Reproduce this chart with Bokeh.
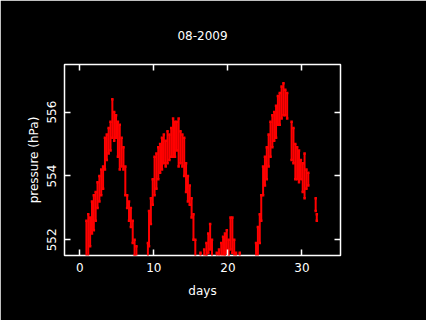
from bokeh.plotting import figure
from bokeh.models import Range1d, LinearAxis, FixedTicker
from bokeh.embed import file_html
from bokeh.resources import INLINE

# sample days and the min/max pressure (hPa) read around each sample
day = [0.9, 1.15, 1.4, 1.65, 1.9, 2.15, 2.4, 2.65, 2.9, 3.15, 3.4, 3.65, 3.9, 4.15, 4.4, 4.65,
       4.9, 5.15, 5.4, 5.65, 5.9, 6.15, 6.4, 6.65, 6.9, 7.15, 7.4, 7.65,
       9.2, 9.35, 9.6, 9.85, 10.1, 10.35, 10.6, 10.85, 11.1, 11.35, 11.6, 11.85, 12.1, 12.35,
       12.6, 12.85, 13.1, 13.35, 13.6, 13.85, 14.1, 14.35, 14.6, 14.85, 15.1, 15.35, 15.6,
       16.3, 16.8, 17.1, 17.35, 17.6, 17.85, 18.5, 18.8, 19.1, 19.35, 19.6, 19.85, 20.1, 20.35,
       20.6, 20.85, 21.1, 21.6,
       23.8, 24.05, 24.3, 24.5, 24.75, 25.0, 25.25, 25.5, 25.75, 26.0, 26.25, 26.5, 26.75, 27.0,
       27.25, 27.5, 27.75, 28.0, 28.6, 28.85, 29.1, 29.35, 29.6, 29.85, 30.1, 30.35, 30.6, 30.85,
       31.85, 32.0]
p_low = [551.3, 551.4, 551.8, 552.2, 552.3, 552.6, 553.0, 553.2, 553.4, 553.6, 554.2, 554.5, 554.7, 554.8, 555.2, 555.1,
         555.2, 554.6, 554.2, 554.3, 554.2, 553.4, 553.0, 552.6, 552.4, 551.9, 551.5, 551.3,
         551.3, 551.8, 552.5, 553.1, 553.4, 553.6, 553.9, 554.1, 554.2, 554.4, 554.3, 554.4, 554.5, 554.6,
         554.6, 554.6, 554.8, 554.3, 554.4, 554.3, 554.0, 553.5, 553.2, 553.1, 552.7, 552.0, 551.3,
         551.3, 551.3, 551.5, 551.6, 551.7, 551.3, 551.3, 551.4, 551.3, 551.4, 551.5, 551.6, 551.5, 551.7,
         551.6, 551.3, 551.3, 551.3,
         551.3, 551.4, 551.9, 552.6, 553.4, 553.7, 553.9, 554.3, 554.6, 554.9, 555.1, 555.2, 555.6, 555.6,
         555.8, 555.9, 555.9, 555.8, 554.5, 554.4, 553.9, 553.9, 553.8, 553.9, 553.5, 553.3, 553.6, 553.7,
         552.9, 552.6]
p_high = [552.6, 552.8, 552.7, 553.2, 553.4, 553.5, 553.8, 554.0, 554.2, 554.3, 555.2, 555.3, 555.5, 555.7, 556.4, 556.0,
          555.9, 555.7, 555.6, 555.2, 554.9, 554.3, 553.4, 553.2, 553.0, 552.6, 552.0, 551.8,
          551.9, 552.9, 553.3, 553.9, 554.6, 554.7, 554.9, 555.0, 555.2, 555.3, 555.1, 555.4, 555.3, 555.5,
          555.8, 555.7, 555.7, 555.8, 555.4, 555.3, 555.2, 554.4, 554.0, 553.7, 553.3, 552.8, 552.0,
          551.6, 551.7, 551.9, 552.2, 552.5, 552.0, 551.6, 551.7, 551.9, 552.1, 552.2, 552.3, 552.0, 552.7,
          552.7, 552.0, 551.6, 551.6,
          551.9, 552.4, 552.8, 553.4, 554.3, 554.6, 554.9, 555.3, 555.7, 555.9, 556.0, 556.2, 556.5, 556.6,
          556.8, 556.9, 556.7, 556.6, 555.7, 555.5, 555.0, 554.9, 554.8, 554.5, 554.4, 554.7, 554.2, 554.1,
          553.3, 552.8]

x_ticks = [0, 10, 20, 30]
y_ticks = [552, 554, 556]

FONT = "DejaVu Sans"

p = figure(frame_width=276, frame_height=191, output_backend="svg", toolbar_location=None,
           x_range=Range1d(-2.06, 35.2), y_range=Range1d(551.51, 557.49),
           x_axis_label="days", y_axis_label="pressure (hPa)", title="08-2009",
           min_border_left=64, min_border_right=86, min_border_top=64, min_border_bottom=65,
           background_fill_color="black", border_fill_color="black")

p.outline_line_color = "white"
p.outline_line_width = 1.5
p.grid.visible = False

p.title.text_color = "white"
p.title.text_font = FONT
p.title.text_font_size = "12px"
p.title.text_font_style = "normal"
p.title.align = "center"
p.title.standoff = 50

for ax, ticks in ((p.xaxis[0], x_ticks), (p.yaxis[0], y_ticks)):
    ax.ticker = FixedTicker(ticks=ticks)
    ax.axis_line_color = None
    ax.major_tick_line_color = "white"
    ax.major_tick_line_width = 1.5
    ax.major_tick_in = 6
    ax.major_tick_out = 0
    ax.minor_tick_line_color = None
    ax.major_label_text_color = "white"
    ax.major_label_text_font = FONT
    ax.major_label_text_font_size = "12px"
    ax.major_label_standoff = 7
    ax.axis_label_text_color = "white"
    ax.axis_label_text_font = FONT
    ax.axis_label_text_font_size = "12px"
    ax.axis_label_text_font_style = "normal"

p.xaxis[0].axis_label_standoff = 9
p.yaxis[0].major_label_standoff = 8
p.yaxis[0].axis_label_standoff = 4
p.yaxis[0].major_label_orientation = "vertical"

for loc, ticks in (("above", x_ticks), ("right", y_ticks)):
    ax = LinearAxis(ticker=FixedTicker(ticks=ticks), axis_line_color=None,
                    major_tick_line_color="white", major_tick_line_width=1.5,
                    major_tick_in=6, major_tick_out=0, minor_tick_line_color=None,
                    major_label_overrides={t: "" for t in ticks}, major_label_standoff=0)
    p.add_layout(ax, loc)

p.segment(x0=day, y0=p_low, x1=day, y1=p_high, line_color="#ff0000", line_width=2)
p.scatter(x=day + day, y=p_low + p_high, marker="square", size=2.5,
          fill_color="#ff0000", line_color=None)

open("out.html", "w").write(file_html(p, INLINE))
